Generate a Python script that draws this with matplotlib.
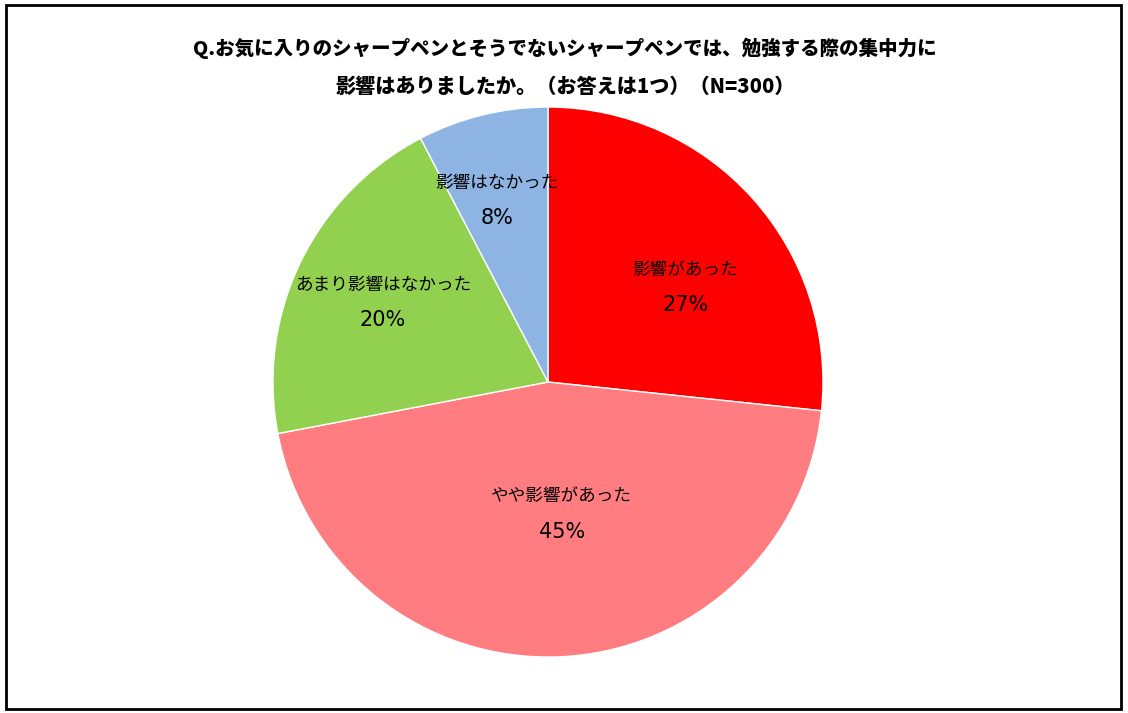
import matplotlib.pyplot as plt
from matplotlib.patches import Rectangle

# Answer counts (N=300), clockwise from 12 o'clock
categories = ['影響があった', 'やや影響があった', 'あまり影響はなかった', '影響はなかった']
counts = [80, 136, 61, 23]
colors = ['#FF0000', '#FF7C80', '#92D050', '#8DB4E2']

# label centres in pie-radius units (layout only)
label_xy = [(0.50, 0.345), (0.05, -0.48), (-0.60, 0.29), (-0.185, 0.66)]

title_lines = ['Q.お気に入りのシャープペンとそうでないシャープペンでは、勉強する際の集中力に',
               '影響はありましたか。（お答えは1つ）（N=300）']

jp = ['Noto Sans CJK JP', 'DejaVu Sans']

fig = plt.figure(figsize=(11.28, 7.13), dpi=100)
ax = fig.add_axes([0.242, 0.0785, 0.4876, 0.7714])

wedges, _ = ax.pie(counts, colors=colors, startangle=90, counterclock=False,
                   radius=1, wedgeprops=dict(linewidth=1.0, edgecolor='white'))
ax.set_xlim(-1, 1)
ax.set_ylim(-1, 1)
ax.set_aspect('equal')
ax.axis('off')

total = sum(counts)
for (x, y), cat, c in zip(label_xy, categories, counts):
    ax.text(x, y + 0.064, cat, ha='center', va='center', fontsize=12.7, family=jp)
    ax.text(x, y - 0.064, f'{round(c / total * 100)}%', ha='center', va='center',
            fontsize=15, family='DejaVu Sans')

fig.text(0.501, 1 - 48 / 713, title_lines[0], ha='center', va='center',
         fontsize=14, fontweight='heavy', family=jp)
fig.text(0.501, 1 - 87 / 713, title_lines[1], ha='center', va='center',
         fontsize=14.5, fontweight='heavy', family=jp)

# outer frame
fig.patches.append(Rectangle((6 / 1128, 4 / 713), 1 - 13 / 1128, 1 - 9 / 713,
                             transform=fig.transFigure, fill=False,
                             edgecolor='black', linewidth=2))

fig.savefig('out.png', dpi=100)
